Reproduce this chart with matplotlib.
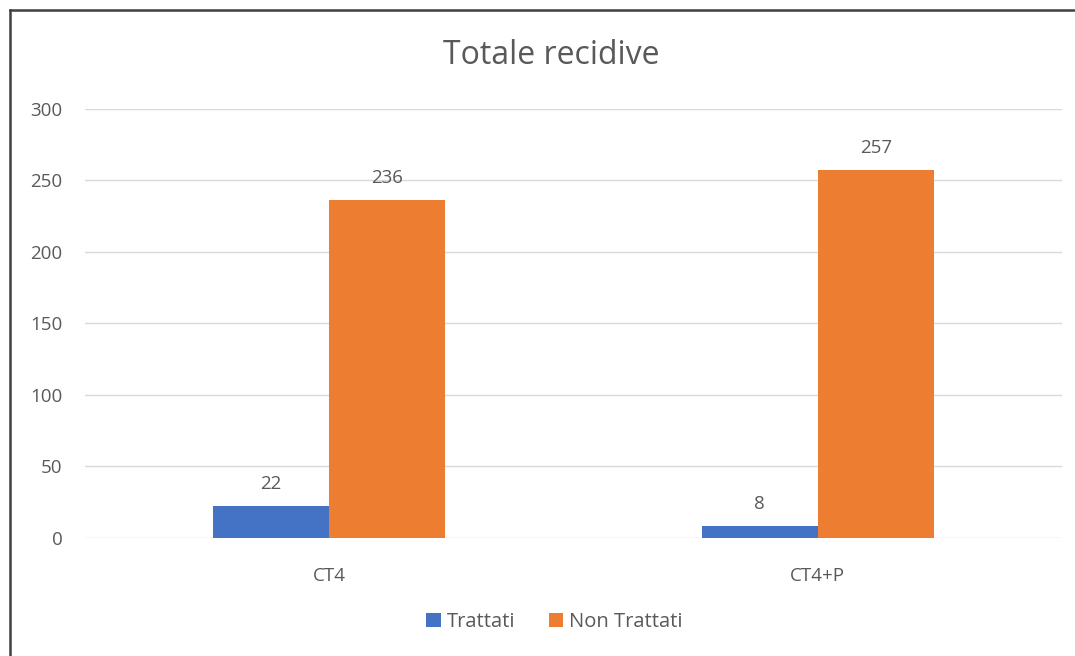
import numpy as np
import matplotlib.pyplot as plt
from matplotlib.lines import Line2D

# dati
categorie = ["CT4", "CT4+P"]
trattati = [22, 8]
non_trattati = [236, 257]
yticks = [0, 50, 100, 150, 200, 250, 300]

plt.rcParams['font.family'] = ['Open Sans', 'DejaVu Sans']
grigio = "#595959"

fig = plt.figure(figsize=(10.75, 6.56), dpi=100)
ax = fig.add_axes([0.079, 0.18, 0.909, 0.654])

x = np.arange(len(categorie))
w = 0.2375
b1 = ax.bar(x - w/2, trattati, w, color="#4472C4", label="Trattati", zorder=3)
b2 = ax.bar(x + w/2, non_trattati, w, color="#ED7D31", label="Non Trattati", zorder=3)

for barre in (b1, b2):
    for r in barre:
        ax.annotate(str(int(r.get_height())), (r.get_x() + r.get_width()/2, r.get_height()),
                    xytext=(0, 10), textcoords="offset points", ha="center", va="bottom",
                    fontsize=13.5, color=grigio)

ax.set_xlim(-0.5, 1.5)
ax.set_ylim(0, 300)
ax.set_yticks(yticks)
ax.set_xticks(x)
ax.set_xticklabels(categorie)
ax.tick_params(length=0, labelsize=13.5, colors=grigio)
ax.tick_params(axis="y", pad=16)
ax.tick_params(axis="x", pad=21)
ax.grid(axis="y", color="#D9D9D9", linewidth=1, zorder=0)
for s in ax.spines.values():
    s.set_visible(False)

fig.suptitle("Totale recidive", x=0.5126, y=0.94, fontsize=23, color=grigio)

leg = fig.legend(loc="center", bbox_to_anchor=(0.516, 0.052), ncol=2, frameon=False,
                 fontsize=14.5, handlelength=0.7, handleheight=0.7, handletextpad=0.3,
                 columnspacing=1.7)
for t in leg.get_texts():
    t.set_color(grigio)

# bordo del grafico (solo lato sinistro e superiore visibili)
x0 = 10/1075
y0 = 1 - 10/656
fig.add_artist(Line2D([x0, x0], [0, y0], transform=fig.transFigure, color="#404040", linewidth=1.8))
fig.add_artist(Line2D([x0, 1.01], [y0, y0], transform=fig.transFigure, color="#404040", linewidth=1.8))

fig.savefig("out.png", dpi=100)
